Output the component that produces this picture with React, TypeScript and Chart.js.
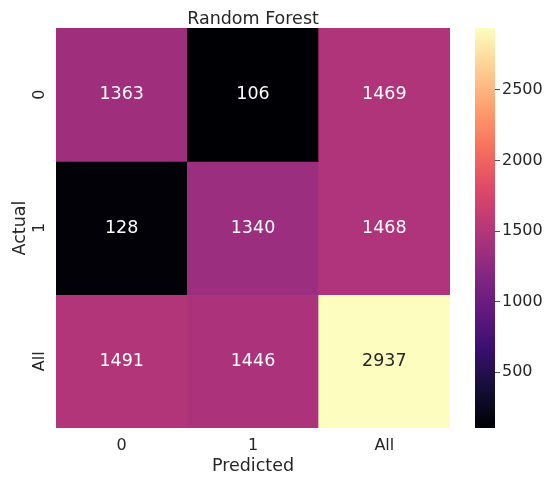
import React, { useEffect, useRef } from 'react';
import { Chart, registerables } from 'chart.js';

Chart.register(...registerables);

// ---------- data ----------
const chartTitle = 'Random Forest';
const predictedLabels = ['0', '1', 'All'];
const actualLabels = ['0', '1', 'All'];
const actualRow0 = [1363, 106, 1469];
const actualRow1 = [128, 1340, 1468];
const actualRowAll = [1491, 1446, 2937];
const colorbarTicks = [500, 1000, 1500, 2000, 2500];

const rows = [actualRow0, actualRow1, actualRowAll];
const allValues = rows.flat();
const vmin = Math.min(...allValues);
const vmax = Math.max(...allValues);

// ---------- magma colormap ----------
const magmaStops: [number, number, number][] = [
  [0, 0, 4],
  [20, 14, 54],
  [59, 15, 112],
  [100, 26, 128],
  [140, 41, 129],
  [183, 55, 121],
  [222, 73, 104],
  [247, 112, 92],
  [254, 159, 109],
  [254, 207, 146],
  [252, 253, 191],
];

function magma(t: number): string {
  const c = Math.max(0, Math.min(1, t)) * (magmaStops.length - 1);
  const i = Math.min(Math.floor(c), magmaStops.length - 2);
  const f = c - i;
  const a = magmaStops[i];
  const b = magmaStops[i + 1];
  const r = Math.round(a[0] + (b[0] - a[0]) * f);
  const g = Math.round(a[1] + (b[1] - a[1]) * f);
  const bl = Math.round(a[2] + (b[2] - a[2]) * f);
  return `rgb(${r},${g},${bl})`;
}

const colorFor = (v: number) => magma((v - vmin) / (vmax - vmin));

const TEXT = '#262626';
const FONT = "'DejaVu Sans', sans-serif";
const LABEL_SIZE = 17.5;
const TICK_SIZE = 16;

export default function App() {
  const mainRef = useRef<HTMLCanvasElement | null>(null);
  const cbRef = useRef<HTMLCanvasElement | null>(null);

  useEffect(() => {
    if (!mainRef.current || !cbRef.current) return;

    const annotatePlugin = {
      id: 'annotate',
      afterDatasetsDraw(chart: any) {
        const ctx = chart.ctx;
        ctx.save();
        ctx.font = `${LABEL_SIZE}px ${FONT}`;
        ctx.textAlign = 'center';
        ctx.textBaseline = 'middle';
        chart.data.datasets.forEach((ds: any, di: number) => {
          const meta = chart.getDatasetMeta(di);
          meta.data.forEach((el: any, i: number) => {
            const v = rows[di][i];
            const t = (v - vmin) / (vmax - vmin);
            ctx.fillStyle = t > 0.6 ? TEXT : '#ffffff';
            ctx.fillText(String(v), el.x, (el.y + el.base) / 2);
          });
        });
        ctx.restore();
      },
    };

    const yLabelPlugin = {
      id: 'yLabels',
      afterDraw(chart: any) {
        const ctx = chart.ctx;
        const ys = chart.scales.y;
        ctx.save();
        ctx.fillStyle = TEXT;
        ctx.font = `${TICK_SIZE}px ${FONT}`;
        ctx.textAlign = 'center';
        ctx.textBaseline = 'middle';
        actualLabels.forEach((lab, i) => {
          const py = ys.getPixelForValue(i + 0.5);
          ctx.save();
          ctx.translate(39.5, py);
          ctx.rotate(-Math.PI / 2);
          ctx.fillText(lab, 0, 0);
          ctx.restore();
        });
        ctx.restore();
      },
    };

    const main = new Chart(mainRef.current, {
      type: 'bar',
      data: {
        labels: predictedLabels,
        datasets: rows.map((row, r) => ({
          label: actualLabels[r],
          data: row.map(() => [r, r + 1]),
          backgroundColor: row.map(colorFor),
          borderWidth: 0,
          barPercentage: 1,
          categoryPercentage: 1,
          grouped: false,
        })) as any,
      },
      options: {
        animation: false,
        responsive: false,
        maintainAspectRatio: false,
        layout: { padding: { top: 0, left: 0, right: 100, bottom: 0 } },
        plugins: {
          legend: { display: false },
          tooltip: { enabled: false },
          title: {
            display: true,
            fullSize: false,
            text: chartTitle,
            color: TEXT,
            font: { family: FONT, size: LABEL_SIZE, weight: 'normal', lineHeight: 1 },
            padding: { top: 10.5, bottom: 0 },
          },
        },
        scales: {
          x: {
            type: 'category',
            grid: { display: false, drawTicks: false },
            border: { display: false },
            ticks: { color: TEXT, font: { family: FONT, size: TICK_SIZE }, padding: 8 },
            title: {
              display: true,
              text: 'Predicted',
              color: TEXT,
              font: { family: FONT, size: LABEL_SIZE },
              padding: { top: 0, bottom: 3.5 },
            },
            afterFit: (s: any) => {
              s.height = 52;
            },
          },
          y: {
            type: 'linear',
            min: 0,
            max: 3,
            reverse: true,
            grid: { display: false, drawTicks: false },
            border: { display: false },
            ticks: { display: false },
            afterBuildTicks: (s: any) => {
              s.ticks = actualLabels.map((_, i) => ({ value: i + 0.5 }));
            },
            title: {
              display: true,
              text: 'Actual',
              color: TEXT,
              font: { family: FONT, size: LABEL_SIZE },
              padding: { top: 10, bottom: 0 },
            },
            afterFit: (s: any) => {
              s.width = 56;
            },
          },
        },
      } as any,
      plugins: [annotatePlugin, yLabelPlugin],
    });

    const cb = new Chart(cbRef.current, {
      type: 'bar',
      data: {
        labels: [''],
        datasets: [
          {
            data: [[vmin, vmax]],
            backgroundColor: (ctx: any) => {
              const chart = ctx.chart;
              const area = chart.chartArea;
              if (!area) return 'black';
              const ys = chart.scales.y;
              const y0 = ys.getPixelForValue(vmin);
              const y1 = ys.getPixelForValue(vmax);
              const g = chart.ctx.createLinearGradient(0, y0, 0, y1);
              const n = 40;
              for (let i = 0; i <= n; i++) g.addColorStop(i / n, magma(i / n));
              return g;
            },
            borderWidth: 0,
            barPercentage: 1,
            categoryPercentage: 1,
          } as any,
        ],
      },
      options: {
        animation: false,
        responsive: false,
        maintainAspectRatio: false,
        layout: { padding: { top: 28, bottom: 52, left: 0, right: 0 } },
        plugins: { legend: { display: false }, tooltip: { enabled: false } },
        scales: {
          x: { display: false },
          y: {
            type: 'linear',
            position: 'right',
            min: vmin,
            max: vmax,
            border: { display: false },
            grid: {
              drawOnChartArea: false,
              drawTicks: true,
              tickLength: 5,
              tickColor: '#555555',
              lineWidth: 1,
            },
            afterBuildTicks: (s: any) => {
              s.ticks = colorbarTicks.map((v) => ({ value: v }));
            },
            ticks: {
              color: TEXT,
              font: { family: FONT, size: TICK_SIZE },
              padding: 2,
              callback: (v: any) => String(v),
            },
            afterFit: (s: any) => {
              s.width = 55;
            },
          },
        },
      } as any,
    });

    return () => {
      main.destroy();
      cb.destroy();
    };
  }, []);

  return (
    <div style={{ position: 'fixed', left: 0, top: 0, width: 550, height: 480, background: '#fff' }}>
      <canvas
        ref={mainRef}
        width={550}
        height={480}
        style={{ position: 'absolute', left: 0, top: 0, width: 550, height: 480 }}
      />
      <canvas
        ref={cbRef}
        width={75}
        height={480}
        style={{ position: 'absolute', left: 475, top: 0, width: 75, height: 480 }}
      />
    </div>
  );
}
